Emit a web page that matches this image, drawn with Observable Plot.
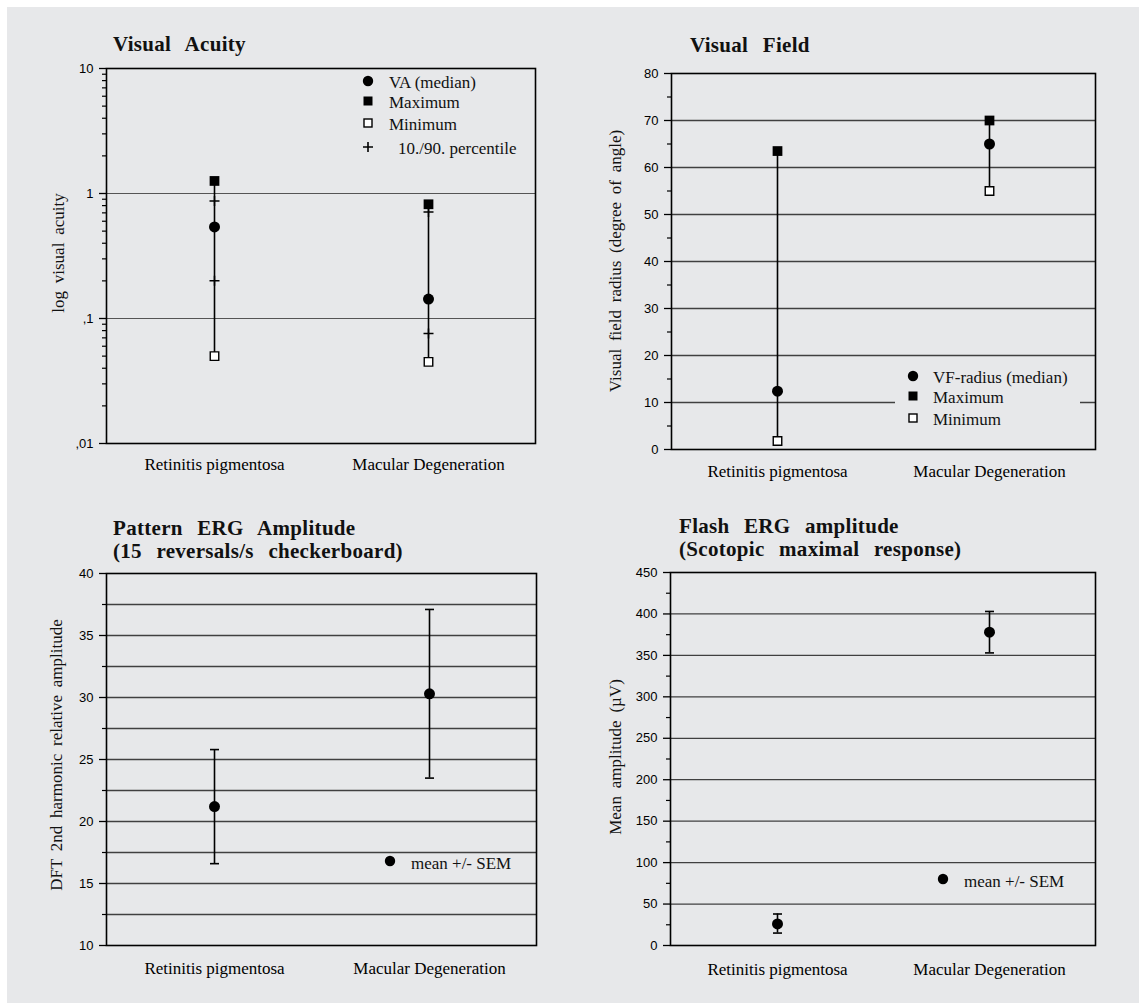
<!DOCTYPE html>
<html>
<head>
<meta charset="utf-8">
<script src="https://cdn.jsdelivr.net/npm/d3@7"></script>
<script src="https://cdn.jsdelivr.net/npm/@observablehq/plot@0.6"></script>
<style>
  body { margin: 0; background: white; }
  #page { position: relative; width: 1143px; height: 1008px; background: white; overflow: hidden; }
  #bg { position: absolute; left: 7px; top: 7px; width: 1132px; height: 996px; background: #e7e8ea; }
  .title { font-family: "Liberation Serif", "Times New Roman", serif; font-weight: bold; font-size: 21px; line-height: 23px; word-spacing: 9px; letter-spacing: 0.3px; color: #111; white-space: nowrap; }
  .ylab { font-family: "Liberation Serif", "Times New Roman", serif; font-size: 17px; word-spacing: 3.5px; color: #111; white-space: nowrap; transform: translate(-50%, -50%) rotate(-90deg); }
  .legtext { font-family: "Liberation Serif", "Times New Roman", serif; font-size: 17px; color: #111; white-space: nowrap; transform: translateY(-50%); line-height: 19px; }
  svg { overflow: visible; }
</style>
</head>
<body>
<div id="page"><div id="bg"></div></div>
<script>
// ---------- data ----------
const categories = ["Retinitis pigmentosa", "Macular Degeneration"];

// Visual acuity (log scale)
const vaMedian = [0.54, 0.143];
const vaMax = [1.26, 0.82];
const vaMin = [0.05, 0.045];
const vaP90 = [0.87, 0.71];
const vaP10 = [0.20, 0.076];
const vaTicks = [0.01, 0.1, 1, 10];
const vaTickLabels = [",01", ",1", "1", "10"];
const vaMinorTicks = [0.02, 0.03, 0.04, 0.05, 0.06, 0.07, 0.08, 0.09,
                      0.2, 0.3, 0.4, 0.5, 0.6, 0.7, 0.8, 0.9,
                      2, 3, 4, 5, 6, 7, 8, 9];
const vaGrid = [0.1, 1];

// Visual field
const vfMedian = [12.4, 65];
const vfMax = [63.5, 70];
const vfMin = [1.8, 55];
const vfTicks = [0, 10, 20, 30, 40, 50, 60, 70, 80];
const vfMinorTicks = [5, 15, 25, 35, 45, 55, 65, 75];
const vfGrid = [10, 20, 30, 40, 50, 60, 70];

// Pattern ERG
const pergMean = [21.2, 30.3];
const pergUpper = [25.8, 37.1];
const pergLower = [16.6, 23.5];
const pergTicks = [10, 15, 20, 25, 30, 35, 40];
const pergMinorTicks = [12.5, 17.5, 22.5, 27.5, 32.5, 37.5];
const pergGrid = [12.5, 15, 17.5, 20, 22.5, 25, 27.5, 30, 32.5, 35, 37.5];

// Flash ERG
const fergMean = [26, 378];
const fergUpper = [38, 403];
const fergLower = [15, 353];
const fergTicks = [0, 50, 100, 150, 200, 250, 300, 350, 400, 450];
const fergMinorTicks = [25, 75, 125, 175, 225, 275, 325, 375, 425];
const fergGrid = [50, 100, 150, 200, 250, 300, 350, 400];

// ---------- helpers ----------
const SERIF = "Liberation Serif, Times New Roman, serif";
const SANS = "Liberation Sans, Arial, Helvetica, sans-serif";
const page = document.getElementById("page");

const plusSymbol = {
  draw(ctx, size) {
    const r = Math.sqrt(size / Math.PI);
    ctx.moveTo(-r, 0); ctx.lineTo(r, 0);
    ctx.moveTo(0, -r); ctx.lineTo(0, r);
  }
};
const capSymbol = {
  draw(ctx, size) {
    const r = Math.sqrt(size / Math.PI);
    ctx.moveTo(-r, 0); ctx.lineTo(r, 0);
  }
};

function place(el, left, top) {
  el.style.position = "absolute";
  el.style.left = left + "px";
  el.style.top = top + "px";
  page.appendChild(el);
  return el;
}
function title(lines, left, top) {
  const d = document.createElement("div");
  d.className = "title";
  d.innerHTML = lines.join("<br>");
  place(d, left, top);
}
function ylabel(text, cx, cy) {
  const d = document.createElement("div");
  d.className = "ylab";
  d.textContent = text;
  place(d, cx, cy);
}
function marker(kind, cx, cy) {
  const ns = "http://www.w3.org/2000/svg";
  const s = document.createElementNS(ns, "svg");
  s.setAttribute("width", 14); s.setAttribute("height", 14);
  s.style.position = "absolute";
  s.style.left = (cx - 7) + "px"; s.style.top = (cy - 7) + "px";
  let el;
  if (kind === "circle") {
    el = document.createElementNS(ns, "circle");
    el.setAttribute("cx", 7); el.setAttribute("cy", 7); el.setAttribute("r", 5.2); el.setAttribute("fill", "black");
  } else if (kind === "square") {
    el = document.createElementNS(ns, "rect");
    el.setAttribute("x", 2.5); el.setAttribute("y", 2.5); el.setAttribute("width", 9); el.setAttribute("height", 9); el.setAttribute("fill", "black");
  } else if (kind === "open") {
    el = document.createElementNS(ns, "rect");
    el.setAttribute("x", 3); el.setAttribute("y", 3); el.setAttribute("width", 8); el.setAttribute("height", 8);
    el.setAttribute("fill", "white"); el.setAttribute("stroke", "black"); el.setAttribute("stroke-width", 1.4);
  } else {
    el = document.createElementNS(ns, "path");
    el.setAttribute("d", "M2,7H12M7,2V12"); el.setAttribute("stroke", "black"); el.setAttribute("stroke-width", 1.6);
  }
  s.appendChild(el);
  page.appendChild(s);
}
function legText(text, left, cy) {
  const d = document.createElement("div");
  d.className = "legtext";
  d.textContent = text;
  place(d, left, cy);
}
function box(left, top, w, h) {
  const d = document.createElement("div");
  d.style.width = w + "px"; d.style.height = h + "px"; d.style.background = "#e7e8ea";
  place(d, left, top);
}

function yAxes(ticks, labels, minor) {
  return [
    Plot.axisY(minor, {tickSize: 4, tickFormat: () => "", strokeWidth: 1.2, label: null}),
    Plot.axisY(ticks, {tickSize: 7, tickPadding: 6, strokeWidth: 1.3, label: null,
      tickFormat: (d) => labels ? labels[ticks.indexOf(d)] : String(d),
      fontSize: 13, fontFamily: SANS})
  ];
}
function xAxis(pad) {
  return Plot.axisX({tickSize: 0, tickPadding: pad, fontSize: 17, fontFamily: SERIF, label: null});
}
const gridStyle = {stroke: "#404040", strokeWidth: 1.3};

// ---------- panel 1: Visual acuity ----------
const va = categories.map((c, i) => ({cat: c, median: vaMedian[i], max: vaMax[i], min: vaMin[i], p90: vaP90[i], p10: vaP10[i]}));
const p1 = Plot.plot({
  width: 560, height: 423, marginLeft: 106, marginRight: 25, marginTop: 8, marginBottom: 40,
  style: {background: "transparent", color: "black"},
  x: {type: "point", domain: categories, padding: 0.5, label: null},
  y: {type: "log", domain: [0.01, 10], label: null},
  marks: [
    Plot.ruleY(vaGrid, {stroke: "#555", strokeWidth: 1.1}),
    Plot.frame({stroke: "black", strokeWidth: 1.6}),
    ...yAxes(vaTicks, vaTickLabels, vaMinorTicks),
    xAxis(14),
    Plot.ruleX(va, {x: "cat", y1: "min", y2: "max", stroke: "black", strokeWidth: 1.6}),
    Plot.dot(va, {x: "cat", y: "p90", symbol: plusSymbol, r: 5, fill: "none", stroke: "black", strokeWidth: 1.5}),
    Plot.dot(va, {x: "cat", y: "p10", symbol: plusSymbol, r: 5, fill: "none", stroke: "black", strokeWidth: 1.5}),
    Plot.dot(va, {x: "cat", y: "max", symbol: "square", r: 5.5, fill: "black"}),
    Plot.dot(va, {x: "cat", y: "min", symbol: "square", r: 4.8, fill: "white", stroke: "black", strokeWidth: 1.4}),
    Plot.dot(va, {x: "cat", y: "median", r: 5.5, fill: "black"})
  ]
});
place(p1, 0, 60);
title(["Visual Acuity"], 113, 33);
ylabel("log visual acuity", 59, 253);
marker("circle", 368, 81); legText("VA (median)", 389, 82);
marker("square", 368, 101); legText("Maximum", 389, 102);
marker("open", 368, 123); legText("Minimum", 389, 124);
marker("plus", 368, 147); legText("10./90. percentile", 398, 148);

// ---------- panel 2: Visual field ----------
const vf = categories.map((c, i) => ({cat: c, median: vfMedian[i], max: vfMax[i], min: vfMin[i]}));
const p2 = Plot.plot({
  width: 573, height: 429, marginLeft: 101, marginRight: 48, marginTop: 13, marginBottom: 40,
  style: {background: "transparent", color: "black"},
  x: {type: "point", domain: categories, padding: 0.5, label: null},
  y: {domain: [0, 80], label: null},
  marks: [
    Plot.ruleY(vfGrid, gridStyle),
    Plot.frame({stroke: "black", strokeWidth: 1.6}),
    ...yAxes(vfTicks, null, vfMinorTicks),
    xAxis(15),
    Plot.ruleX(vf, {x: "cat", y1: "min", y2: "max", stroke: "black", strokeWidth: 1.6}),
    Plot.dot(vf, {x: "cat", y: "max", symbol: "square", r: 5.5, fill: "black"}),
    Plot.dot(vf, {x: "cat", y: "min", symbol: "square", r: 4.8, fill: "white", stroke: "black", strokeWidth: 1.4}),
    Plot.dot(vf, {x: "cat", y: "median", r: 5.5, fill: "black"})
  ]
});
place(p2, 570, 60);
title(["Visual Field"], 690, 34);
ylabel("Visual field radius (degree of angle)", 616, 261);
box(895, 364, 185, 68);
marker("circle", 913, 376); legText("VF-radius (median)", 933, 377);
marker("square", 913, 396); legText("Maximum", 933, 397);
marker("open", 913, 418); legText("Minimum", 933, 419);

// ---------- panel 3: Pattern ERG ----------
const perg = categories.map((c, i) => ({cat: c, mean: pergMean[i], upper: pergUpper[i], lower: pergLower[i]}));
const p3 = Plot.plot({
  width: 560, height: 425, marginLeft: 106, marginRight: 24, marginTop: 13, marginBottom: 40,
  style: {background: "transparent", color: "black"},
  x: {type: "point", domain: categories, padding: 0.5, label: null},
  y: {domain: [10, 40], label: null},
  marks: [
    Plot.ruleY(pergGrid, gridStyle),
    Plot.frame({stroke: "black", strokeWidth: 1.6}),
    ...yAxes(pergTicks, null, pergMinorTicks),
    xAxis(16),
    Plot.ruleX(perg, {x: "cat", y1: "lower", y2: "upper", stroke: "black", strokeWidth: 1.6}),
    Plot.dot(perg, {x: "cat", y: "upper", symbol: capSymbol, r: 4.5, fill: "none", stroke: "black", strokeWidth: 1.6}),
    Plot.dot(perg, {x: "cat", y: "lower", symbol: capSymbol, r: 4.5, fill: "none", stroke: "black", strokeWidth: 1.6}),
    Plot.dot(perg, {x: "cat", y: "mean", r: 5.5, fill: "black"})
  ]
});
place(p3, 0, 560);
title(["Pattern ERG Amplitude", "(15 reversals/s checkerboard)"], 113, 517);
ylabel("DFT 2nd harmonic relative amplitude", 57, 755);
marker("circle", 390, 861); legText("mean +/- SEM", 411, 863);

// ---------- panel 4: Flash ERG ----------
const ferg = categories.map((c, i) => ({cat: c, mean: fergMean[i], upper: fergUpper[i], lower: fergLower[i]}));
const p4 = Plot.plot({
  width: 573, height: 425, marginLeft: 100, marginRight: 48, marginTop: 12, marginBottom: 40,
  style: {background: "transparent", color: "black"},
  x: {type: "point", domain: categories, padding: 0.5, label: null},
  y: {domain: [0, 450], label: null},
  marks: [
    Plot.ruleY(fergGrid, gridStyle),
    Plot.frame({stroke: "black", strokeWidth: 1.6}),
    ...yAxes(fergTicks, null, fergMinorTicks),
    xAxis(17),
    Plot.ruleX(ferg, {x: "cat", y1: "lower", y2: "upper", stroke: "black", strokeWidth: 1.6}),
    Plot.dot(ferg, {x: "cat", y: "upper", symbol: capSymbol, r: 4.5, fill: "none", stroke: "black", strokeWidth: 1.6}),
    Plot.dot(ferg, {x: "cat", y: "lower", symbol: capSymbol, r: 4.5, fill: "none", stroke: "black", strokeWidth: 1.6}),
    Plot.dot(ferg, {x: "cat", y: "mean", r: 5.5, fill: "black"})
  ]
});
place(p4, 570, 560);
title(["Flash ERG amplitude", "(Scotopic maximal response)"], 679, 515);
ylabel("Mean amplitude (\u00b5V)", 616, 757);
marker("circle", 943, 879); legText("mean +/- SEM", 964, 881);
</script>
</body>
</html>
